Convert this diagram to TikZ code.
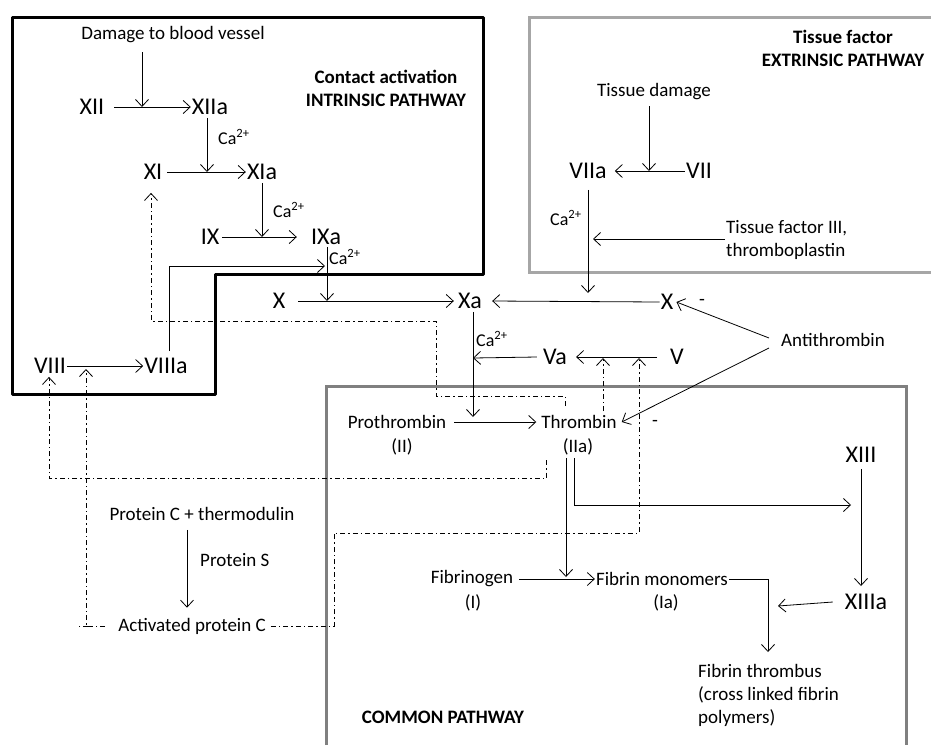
\documentclass[tikz,border=0pt]{standalone}
\usepackage{fontspec}
\setmainfont{Carlito}
\usetikzlibrary{arrows.meta}
\newcommand{\caion}{Ca\textsuperscript{2+}}

\begin{document}
\begin{tikzpicture}[x=1pt,y=-1pt]
  \tikzset{txt/.style={font=\fontsize{19}{23}\selectfont,inner sep=1pt},
           fac/.style={font=\fontsize{24}{28}\selectfont,inner sep=1pt},
           calbl/.style={font=\fontsize{18}{20}\selectfont,inner sep=0pt,anchor=west},
           hd/.style={font=\fontsize{19}{23}\selectfont\bfseries,align=center,inner sep=1pt},
           arr/.style={-{Straight Barb[length=7pt,width=13pt]},line width=0.8pt},
           dd/.style={line width=0.8pt,dash pattern=on 5pt off 3pt on 1.5pt off 3pt},
           inh/.style={arr,dd}}
  \useasboundingbox (0,0) rectangle (931,745);

  \draw[line width=3pt,line join=round] (12,17) -- (483,17) -- (483,274) -- (215,274) -- (215,394) -- (12,394) -- cycle;
  \draw[gray!70,line width=3pt] (931,17) -- (529,17) -- (529,272) -- (931,272);
  \draw[gray,line width=3pt] (326,745) -- (326,386) -- (906,386) -- (906,745);

  \node[hd] (intr) at (386,88) {Contact activation\\INTRINSIC PATHWAY};
  \node[hd] (extr) at (843,48) {Tissue factor\\EXTRINSIC PATHWAY};
  \node[hd] (comm) at (443,717) {COMMON PATHWAY};

  \node[txt] (dmg) at (173,35) {Damage to blood vessel};
  \node[fac] (xii) at (92,107) {XII};
  \node[fac] (xiia) at (210,107) {XIIa};
  \node[fac] (xi) at (153,172) {XI};
  \node[fac] (xia) at (262,172) {XIa};
  \node[fac] (ix) at (210,237) {IX};
  \node[fac] (ixa) at (326,237) {IXa};
  \node[fac] (xint) at (279,301) {X};
  \node[fac] (xa) at (470,301) {Xa};
  \node[fac] (viii) at (50,366) {VIII};
  \node[fac] (viiia) at (166,366) {VIIIa};
  \node[calbl] (ca1) at (218,137) {\caion};
  \node[calbl] (ca2) at (273,210) {\caion};
  \node[calbl] (ca3) at (329,257) {\caion};

  \node[txt] (tdmg) at (654,92) {Tissue damage};
  \node[fac] (vii) at (699,171) {VII};
  \node[fac] (viia) at (588,171) {VIIa};
  \node[calbl] (ca4) at (550,218) {\caion};
  \node[txt,anchor=west,align=left] (tf) at (725,240) {Tissue factor III,\\thromboplastin};

  \node[fac] (xext) at (667,302) {X};
  \node[txt] (mina) at (702,302) {-};
  \node[txt] (anti) at (833,340) {Antithrombin};
  \node[fac] (va) at (555,357) {Va};
  \node[fac] (v) at (677,357) {V};
  \node[calbl] (ca5) at (476,339) {\caion};
  \node[txt] (pro) at (397,422) {Prothrombin};
  \node[txt] (proii) at (402,447) {(II)};
  \node[txt] (thr) at (579,422) {Thrombin};
  \node[txt] (thrii) at (578,447) {(IIa)};
  \node[txt] (minb) at (655,423) {-};

  \node[fac] (xiii) at (861,455) {XIII};
  \node[fac] (xiiia) at (866,602) {XIIIa};
  \node[txt] (fgn) at (472,579) {Fibrinogen};
  \node[txt] (fgni) at (473,603) {(I)};
  \node[txt] (fm) at (662,579) {Fibrin monomers};
  \node[txt] (fmi) at (666,603) {(Ia)};
  \node[txt,anchor=west,align=left] (ft) at (697,695) {Fibrin thrombus\\(cross linked fibrin\\polymers)};

  \node[txt] (pc) at (202,514) {Protein C + thermodulin};
  \node[txt,anchor=west] (ps) at (199,560) {Protein S};
  \node[txt] (apc) at (192,626) {Activated protein C};

  \coordinate (j1) at (142,107);
  \coordinate (j2) at (207,172);
  \coordinate (j3) at (262,237);
  \coordinate (j4) at (327,301);
  \coordinate (j5) at (325,266);
  \coordinate (j6) at (649,171);
  \coordinate (j7) at (588,293);
  \coordinate (j8) at (593,239);
  \coordinate (j9) at (473,358);
  \coordinate (j10) at (473,421);
  \coordinate (j11) at (566,579);
  \coordinate (j12) at (851,505);
  \coordinate (j13) at (778,606);
  \coordinate (j14) at (768,652);
  \coordinate (j15) at (187,0);
  \coordinate (j16) at (603,358);
  \coordinate (j17) at (639,358);
  \coordinate (j18) at (86,369);

  \draw[arr] ([yshift=-8pt]dmg.south -| j1) -- (j1);
  \draw[arr] ([xshift=9pt]xii.east) -- (xiia.west);
  \draw[arr] ([xshift=-3pt,yshift=-2pt]xiia.south) -- (j2);
  \draw[arr] ([xshift=4pt]xi.east) -- (xia.west);
  \draw[arr] ([yshift=-2pt]xia.south) -- (j3);
  \draw[arr] ([xshift=2pt]ix.east) -- ([xshift=-13pt]ixa.west);
  \draw[arr] ([xshift=1pt,yshift=-1pt]ixa.south) -- (j4);
  \draw[arr] ([xshift=3pt,yshift=6pt]viiia.north) |- (j5);
  \draw[arr] ([xshift=12pt]xint.east) -- ([xshift=-3pt]xa.west);
  \draw[arr] (viii.east) -- (viiia.west);

  \draw[arr] ([yshift=-5pt]tdmg.south -| j6) -- (j6);
  \draw[arr] (vii.west) -- ([xshift=7pt]viia.east);
  \draw[arr] ([yshift=-10pt]viia.south) -- (j7);
  \draw[arr] (tf.west |- j8) -- (j8);

  \draw[arr] (xext.west) -- ([xshift=9pt]xa.east);
  \draw[arr] ([xshift=-11pt,yshift=2pt]anti.west) -- ([xshift=2pt]xext.east);
  \draw[arr] ([xshift=-11pt,yshift=-8pt]anti.west) -- ([xshift=4pt]thr.east);
  \draw[arr] ([xshift=-12pt]v.west) -- ([xshift=8pt]va.east);
  \draw[arr] ([xshift=-5pt]va.west) -- (j9);
  \draw[arr] ([xshift=3pt,yshift=-2pt]xa.south) -- ([yshift=4pt]j10);
  \draw[arr] ([xshift=7pt]pro.east) -- ([xshift=-4pt]thr.west);
  \draw[arr] ([yshift=-2pt]thrii.south -| j11) -- ([yshift=2pt]j11);
  \draw[arr] ([xshift=-4pt,yshift=-2pt]thrii.south) |- (j12);
  \draw[arr] ([yshift=-5pt]xiii.south) -- ([yshift=7pt]xiii.south |- xiiia.north);
  \draw[arr] ([xshift=-11pt]xiiia.west) -- (j13);
  \draw[arr] ([xshift=5pt]fgn.east) -- (fm.west);
  \draw[arr] (fm.east) -| (j14);
  \draw[arr] ([yshift=-8pt]pc.south -| j15) -- ([yshift=9pt]apc.north -| j15);

  \draw[inh] ([xshift=-14pt,yshift=8pt]thr.north) -- ++(0,-10) -| (436,321) -| ([xshift=-2pt,yshift=-12pt]xi.south);
  \draw[inh] ([xshift=-15pt,yshift=-13pt]thrii.west) -- ++(0,18) -| ([xshift=-1pt,yshift=-2pt]viii.south);
  \draw[inh] ([xshift=24pt,yshift=3pt]thr.north) -- (j16);
  \draw[inh] ([xshift=4pt]apc.east) -| (334,533) -| (j17);
  \draw[inh] ([xshift=-12pt]apc.west) -| (j18);
  \draw[dd] ([xshift=-29pt]apc.west) -- ++(-10,0);
\end{tikzpicture}
\end{document}
